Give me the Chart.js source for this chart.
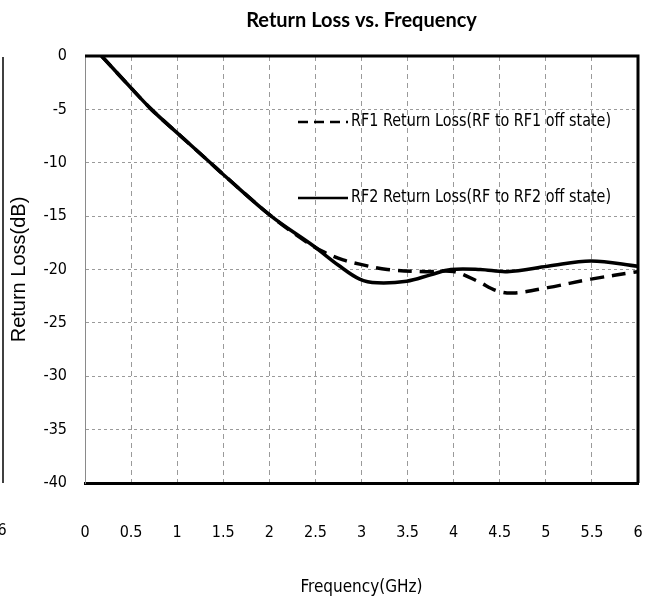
<!DOCTYPE html>
<html>
<head>
<meta charset="utf-8">
<script src="https://cdn.jsdelivr.net/npm/chart.js@4.4.1/dist/chart.umd.min.js"></script>
<style>
    html, body { margin: 0; padding: 0; background: #fff; }
    #wrap { width: 650px; height: 602px; }
</style>
</head>
<body>
<div id="wrap"><canvas id="rlChart" width="650" height="602"></canvas></div>
<script>
// ===========================
// Return Loss vs. Frequency
// ===========================

// frequency ticks (GHz) and return loss ticks (dB)
const freqTicks = [0, 0.5, 1, 1.5, 2, 2.5, 3, 3.5, 4, 4.5, 5, 5.5, 6];
const lossTicks = [0, -5, -10, -15, -20, -25, -30, -35, -40];

// RF1 return loss (dashed)
const rf1Freq = [0.18, 0.5, 0.72, 1.0, 1.36, 1.5, 2.02, 2.4, 2.6, 2.8, 2.98, 3.28, 3.71, 4.0, 4.26, 4.47, 4.65, 5.02, 5.49, 6.0];
const rf1Loss = [0, -3.0, -5.0, -7.2, -10.0, -11.1, -15.0, -17.4, -18.4, -19.1, -19.5, -20.0, -20.2, -20.2, -21.1, -22.0, -22.2, -21.7, -20.9, -20.2];

// RF2 return loss (solid)
const rf2Freq = [0.18, 0.5, 0.72, 1.0, 1.36, 1.5, 2.02, 2.48, 2.75, 2.98, 3.17, 3.49, 3.75, 3.97, 4.29, 4.58, 5.02, 5.49, 6.0];
const rf2Loss = [0, -3.0, -5.0, -7.2, -10.0, -11.1, -15.0, -17.8, -19.6, -20.9, -21.25, -21.1, -20.5, -20.0, -20.0, -20.2, -19.7, -19.2, -19.7];

const narrowFont = "'Liberation Sans Narrow', 'DejaVu Sans Condensed', sans-serif";

function toPoints(xs, ys) {
    return xs.map((x, i) => ({ x: x, y: ys[i] }));
}

// frame (top / right) + in-plot legend + sliver of neighbouring chart
const framePlugin = {
    id: 'frameAndLegend',
    afterDatasetsDraw(chart) {
        const { ctx, chartArea: a } = chart;
        ctx.save();

        // thick black frame on top and right
        ctx.strokeStyle = '#000';
        ctx.lineWidth = 3;
        ctx.beginPath();
        ctx.moveTo(a.left, a.top);
        ctx.lineTo(a.right, a.top);
        ctx.lineTo(a.right, a.bottom);
        ctx.stroke();

        // legend inside plot
        const items = [
            { ds: chart.data.datasets[0], y: 122 },
            { ds: chart.data.datasets[1], y: 198 }
        ];
        items.forEach(it => {
            ctx.strokeStyle = '#000';
            ctx.lineWidth = 2.5;
            ctx.setLineDash(it.ds.borderDash && it.ds.borderDash.length ? [10, 6] : []);
            ctx.beginPath();
            ctx.moveTo(298, it.y);
            ctx.lineTo(348, it.y);
            ctx.stroke();
            ctx.setLineDash([]);
            ctx.fillStyle = '#000';
            ctx.font = '17px ' + narrowFont;
            ctx.textAlign = 'left';
            ctx.textBaseline = 'middle';
            ctx.fillText(it.ds.label, 351, it.y, 260);
        });

        // cropped edge of the neighbouring chart
        ctx.strokeStyle = '#000';
        ctx.lineWidth = 1.5;
        ctx.beginPath();
        ctx.moveTo(3, a.top + 1);
        ctx.lineTo(3, a.bottom);
        ctx.stroke();
        ctx.font = '16px ' + narrowFont;
        ctx.textAlign = 'center';
        ctx.textBaseline = 'middle';
        ctx.fillText('6', 2, 531);

        ctx.restore();
    }
};

const ctx = document.getElementById('rlChart').getContext('2d');

new Chart(ctx, {
    type: 'line',
    data: {
        datasets: [{
            label: 'RF1 Return Loss(RF to RF1 off state)',
            data: toPoints(rf1Freq, rf1Loss),
            borderColor: '#000',
            borderWidth: 3.5,
            borderDash: [14, 8],
            pointRadius: 0,
            fill: false,
            tension: 0.35
        }, {
            label: 'RF2 Return Loss(RF to RF2 off state)',
            data: toPoints(rf2Freq, rf2Loss),
            borderColor: '#000',
            borderWidth: 3.5,
            pointRadius: 0,
            fill: false,
            tension: 0.35
        }]
    },
    options: {
        responsive: false,
        animation: false,
        layout: {
            padding: { left: 0, right: 12, top: 0, bottom: 0 }
        },
        plugins: {
            legend: { display: false },
            tooltip: { enabled: false },
            title: {
                display: true,
                text: 'Return Loss vs. Frequency',
                fullSize: false,
                color: '#000',
                font: { family: "Lato, 'Open Sans', sans-serif", size: 20, weight: 'bold' },
                padding: { top: 9, bottom: 23 }
            }
        },
        scales: {
            x: {
                type: 'linear',
                min: 0,
                max: 6,
                afterBuildTicks: s => { s.ticks = freqTicks.map(v => ({ value: v })); },
                afterFit: s => {
                    s.height = 119;
                    s.paddingLeft = 0;
                    s.paddingRight = 0;
                },
                grid: {
                    color: '#9a9a9a',
                    lineWidth: 1,
                    drawTicks: false
                },
                border: { display: true, color: '#000', width: 3, dash: [5, 4] },
                ticks: {
                    color: '#000',
                    padding: 40,
                    maxRotation: 0,
                    font: { family: narrowFont, size: 16 },
                    callback: v => String(v)
                },
                title: {
                    display: true,
                    text: 'Frequency(GHz)',
                    color: '#000',
                    font: { family: narrowFont, size: 17 },
                    padding: { top: 0, bottom: 4 }
                }
            },
            y: {
                type: 'linear',
                min: -40,
                max: 0,
                afterBuildTicks: s => { s.ticks = lossTicks.map(v => ({ value: v })); },
                afterFit: s => {
                    s.width = 85;
                    s.paddingTop = 0;
                    s.paddingBottom = 0;
                },
                grid: {
                    color: '#9a9a9a',
                    lineWidth: 1,
                    drawTicks: false
                },
                border: { display: true, color: '#8a8a8a', width: 1, dash: [3, 3] },
                ticks: {
                    color: '#000',
                    padding: 18,
                    font: { family: narrowFont, size: 16 },
                    callback: v => String(v)
                },
                title: {
                    display: true,
                    text: 'Return Loss(dB)',
                    color: '#000',
                    font: { family: "'Liberation Sans', Arial, sans-serif", size: 20 },
                    padding: { top: 7, bottom: 0 }
                }
            }
        }
    },
    plugins: [framePlugin]
});
</script>
</body>
</html>
